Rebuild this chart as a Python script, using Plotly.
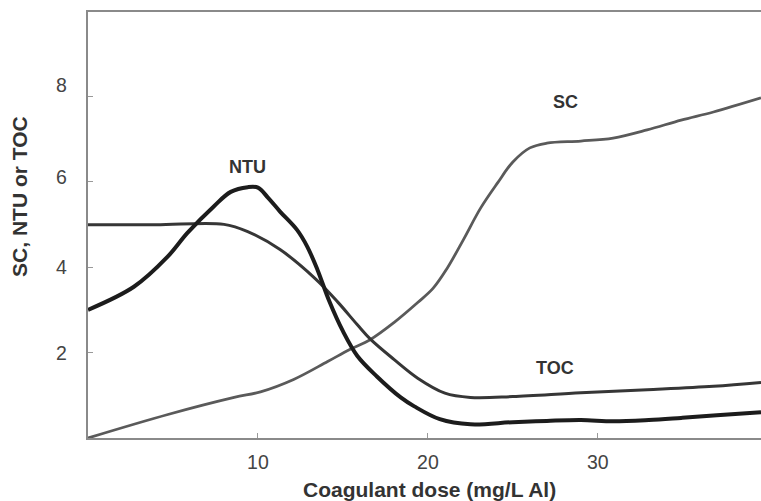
import plotly.graph_objects as go

# Coagulant dose (mg/L Al) and measured responses
dose_ntu = [0, 2.7, 4.7, 5.85, 7.4, 8.4, 9.4, 10.0, 10.6, 11.3, 12.3, 12.9, 13.5,
            14.2, 15.0, 15.85, 17.0, 18.4, 19.2, 20.7, 22.5, 25.0, 27.0, 29.0,
            30.9, 33.0, 34.9, 37.0, 39.6]
ntu = [3.0, 3.54, 4.25, 4.8, 5.42, 5.76, 5.87, 5.86, 5.62, 5.30, 4.87, 4.48, 3.94,
       3.2, 2.5, 1.92, 1.44, 0.95, 0.74, 0.44, 0.32, 0.37, 0.40, 0.42,
       0.39, 0.42, 0.47, 0.53, 0.60]

dose_toc = [0, 4.0, 8.0, 9.4, 11.3, 13.4, 14.7, 15.85, 16.6, 18.0, 19.4, 21.0,
            22.5, 25.0, 29.0, 32.9, 36.8, 39.6]
toc = [4.99, 4.99, 5.0, 4.83, 4.41, 3.72, 3.18, 2.65, 2.32, 1.84, 1.40, 1.05,
       0.95, 0.97, 1.06, 1.13, 1.21, 1.30]

dose_sc = [0, 4.7, 8.6, 10.15, 12.1, 14.1, 15.4, 16.6, 18.0, 19.4, 20.3, 21.1,
           22.1, 23.1, 24.1, 25.0, 26.0, 27.0, 29.0, 30.9, 32.9, 34.9, 36.8, 39.6]
sc = [0.0, 0.55, 0.95, 1.08, 1.37, 1.79, 2.07, 2.30, 2.70, 3.17, 3.50, 3.95,
      4.65, 5.38, 5.97, 6.46, 6.79, 6.9, 6.95, 7.02, 7.21, 7.44, 7.63, 7.96]

x_ticks = [10, 20, 30]
y_ticks = [2, 4, 6, 8]
y_tick_lift = {2: 0, 4: 0, 6: 5, 8: 11}  # px the printed labels sit above their ticks

series_labels = [("NTU", 9.4, 6.35), ("SC", 28.1, 7.87), ("TOC", 27.5, 1.63)]

FONT = "Liberation Sans, Arial, sans-serif"

fig = go.Figure()
fig.add_trace(go.Scatter(x=dose_sc, y=sc, mode="lines",
                         line=dict(color="#5a5a5a", width=2.8, shape="spline", smoothing=1.0)))
fig.add_trace(go.Scatter(x=dose_toc, y=toc, mode="lines",
                         line=dict(color="#363636", width=3, shape="spline", smoothing=1.0)))
fig.add_trace(go.Scatter(x=dose_ntu, y=ntu, mode="lines",
                         line=dict(color="#1c1c1c", width=4, shape="spline", smoothing=1.0)))

annotations = []
for name, xv, yv in series_labels:
    annotations.append(dict(x=xv, y=yv, xref="x", yref="y", text=f"<b>{name}</b>",
                            showarrow=False, font=dict(family=FONT, size=18, color="#333")))
for t in y_ticks:
    annotations.append(dict(x=0, y=t, xref="paper", yref="y", text=str(t), showarrow=False,
                            xanchor="right", yanchor="middle", xshift=-19,
                            yshift=y_tick_lift[t],
                            font=dict(family=FONT, size=19.5, color="#444")))
annotations.append(dict(x=0.507, y=-0.122, xref="paper", yref="paper",
                        text="<b>Coagulant dose (mg/L Al)</b>", showarrow=False,
                        xanchor="center", yanchor="middle",
                        font=dict(family=FONT, size=21, color="#333")))
annotations.append(dict(x=-0.101, y=0.566, xref="paper", yref="paper",
                        text="<b>SC, NTU or TOC</b>", showarrow=False, textangle=-90,
                        xanchor="center", yanchor="middle",
                        font=dict(family=FONT, size=21, color="#333")))

fig.update_layout(
    width=761, height=501,
    margin=dict(l=88, r=0, t=12, b=63),
    paper_bgcolor="white", plot_bgcolor="white",
    showlegend=False,
    annotations=annotations,
    xaxis=dict(range=[0, 39.6], tickvals=x_ticks, ticks="inside", ticklen=5,
               tickcolor="#999", showline=True, linecolor="#8a8a8a", linewidth=1.5,
               mirror=True, showgrid=False, zeroline=False, ticklabelstandoff=6,
               tickfont=dict(family=FONT, size=19.5, color="#444")),
    yaxis=dict(range=[0, 9.97], tickvals=y_ticks, ticks="inside", ticklen=5,
               tickcolor="#999", showticklabels=False, showline=True,
               linecolor="#8a8a8a", linewidth=1.5, showgrid=False, zeroline=False),
)

fig.write_html("out.html")
